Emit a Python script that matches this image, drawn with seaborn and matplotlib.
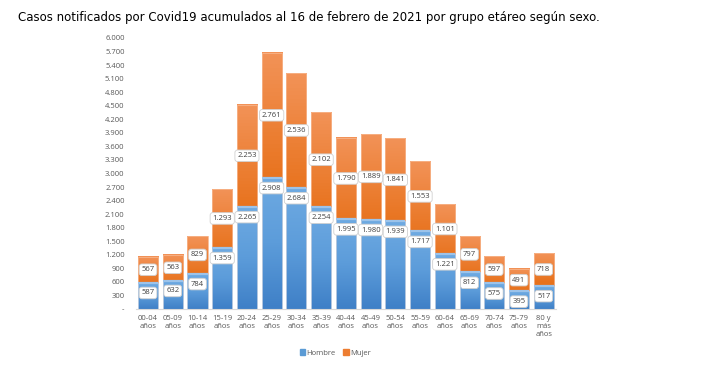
import numpy as np
import pandas as pd
import matplotlib
matplotlib.use('Agg')
import matplotlib.pyplot as plt
import seaborn as sns
from matplotlib.colors import LinearSegmentedColormap
import matplotlib.ticker as ticker

# Data
grupos = ['00-04\naños', '05-09\naños', '10-14\naños', '15-19\naños', '20-24\naños',
          '25-29\naños', '30-34\naños', '35-39\naños', '40-44\naños', '45-49\naños',
          '50-54\naños', '55-59\naños', '60-64\naños', '65-69\naños', '70-74\naños',
          '75-79\naños', '80 y\nmás\naños']
hombre = [587, 632, 784, 1359, 2265, 2908, 2684, 2254, 1995, 1980, 1939, 1717, 1221, 812, 575, 395, 517]
mujer = [567, 563, 829, 1293, 2253, 2761, 2536, 2102, 1790, 1889, 1841, 1553, 1101, 797, 597, 491, 718]
yticks = list(range(0, 6001, 300))

sns.set_style("white")
plt.rcParams['font.family'] = ['Open Sans', 'DejaVu Sans']

df = pd.DataFrame({'grupo': grupos, 'Hombre': hombre, 'Mujer': mujer})
df['total'] = df['Hombre'] + df['Mujer']

fig = plt.figure(figsize=(7.03, 3.83), dpi=100)
ax = fig.add_axes([0.193, 0.193, 0.598, 0.708])

# totals first (Mujer on top), then Hombre over it
sns.barplot(data=df, x='grupo', y='total', color='#ED7D31', width=0.81, ax=ax,
            edgecolor='#f7b48a', linewidth=0.6)
sns.barplot(data=df, x='grupo', y='Hombre', color='#5B9BD5', width=0.81, ax=ax,
            edgecolor='#a9cbee', linewidth=0.6)

# gradient fill like the spreadsheet original
cm_or = LinearSegmentedColormap.from_list('or', ['#E2690F', '#E8731E', '#F29257'])
cm_bl = LinearSegmentedColormap.from_list('bl', ['#3F80C7', '#5C9CDA', '#6EAAE2'])
grad = np.linspace(0, 1, 64).reshape(-1, 1)
n = len(grupos)
for i, p in enumerate(ax.patches[:2 * n]):
    x0, y0 = p.get_x(), p.get_y()
    w, h = p.get_width(), p.get_height()
    cmap = cm_or if i < n else cm_bl
    ax.imshow(grad, extent=[x0, x0 + w, y0, y0 + h], origin='lower',
              aspect='auto', cmap=cmap, zorder=p.get_zorder(), clip_path=p)
    p.set_facecolor('none')
    p.set_zorder(p.get_zorder() + 0.1)
ax.set_ylim(0, 6000)
ax.set_xlim(-0.5, n - 0.5)

# light band at top of the blue segments
for i, h in enumerate(hombre):
    ax.plot([i - 0.405, i + 0.405], [h, h], color='#9cc3ea', lw=1.6, zorder=3,
            solid_capstyle='butt')

box = dict(boxstyle='round,pad=0.3,rounding_size=0.35', fc='white', ec='#d0d0d0', lw=0.6)
for i in range(n):
    ax.annotate(f"{hombre[i]:,}".replace(',', '.'), (i, hombre[i]), xytext=(0, -7.5),
                textcoords='offset points', ha='center', va='center', fontsize=5.5,
                color='#404040', bbox=box, zorder=5)
    ax.annotate(f"{mujer[i]:,}".replace(',', '.'), (i, hombre[i] + mujer[i] / 2),
                ha='center', va='center', fontsize=5.5, color='#404040', bbox=box, zorder=5)

ax.set_yticks(yticks)
ax.yaxis.set_major_formatter(ticker.FuncFormatter(
    lambda v, pos: '-' if v == 0 else f"{int(v):,}".replace(',', '.')))
ax.tick_params(axis='both', length=0, labelsize=5.5, colors='#595959')
ax.tick_params(axis='y', pad=8)
ax.tick_params(axis='x', pad=4)
ax.set_xlabel('')
ax.set_ylabel('')
for s in ['top', 'right', 'left']:
    ax.spines[s].set_visible(False)
ax.spines['bottom'].set_color('#d9d9d9')
ax.spines['bottom'].set_linewidth(0.8)

handles = [plt.Rectangle((0, 0), 1, 1, color='#5B9BD5'), plt.Rectangle((0, 0), 1, 1, color='#ED7D31')]
fig.legend(handles, ['Hombre', 'Mujer'], loc='center', bbox_to_anchor=(0.477, 0.078), ncol=2,
           frameon=False, fontsize=5.5, handlelength=0.7, handleheight=0.7, handletextpad=0.2,
           columnspacing=1.0, labelcolor='#595959')

fig.text(0.026, 0.955, 'Casos notificados por Covid19 acumulados al 16 de febrero de 2021 por grupo etáreo según sexo.',
         fontsize=8.5, ha='left', va='center', color='black',
         family=['Liberation Sans Narrow', 'DejaVu Sans'])

fig.savefig('out.png', dpi=100)
